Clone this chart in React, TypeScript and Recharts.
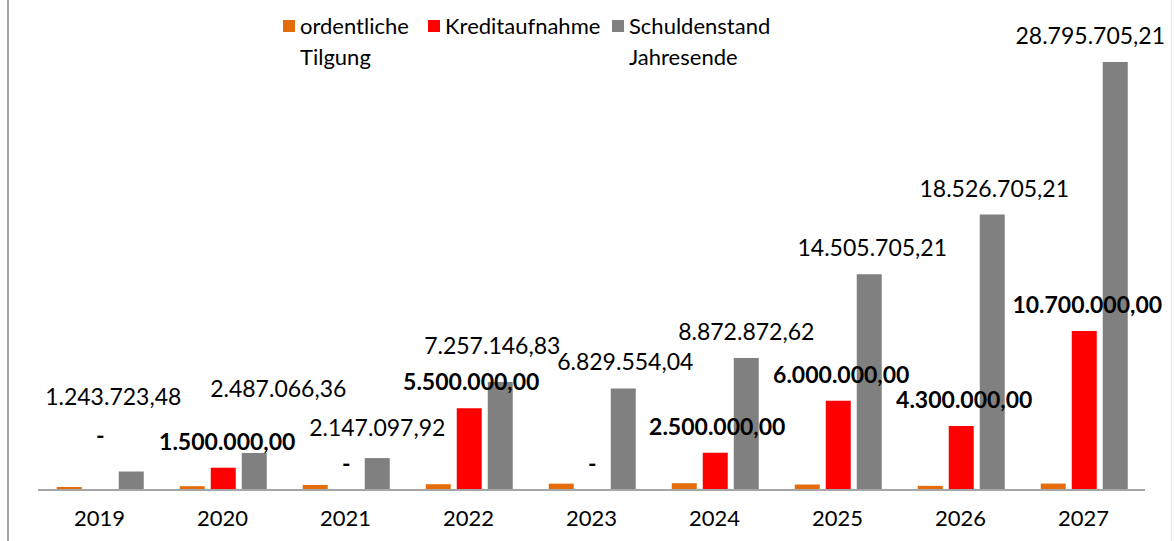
import React from 'react'
import { BarChart, Bar, XAxis, YAxis, Legend, LabelList } from 'recharts'

const years = ['2019', '2020', '2021', '2022', '2023', '2024', '2025', '2026', '2027']
const tilgung = [200000, 256657.12, 339968.44, 389951.09, 427592.79, 456681.42, 367167.41, 279000, 431000]
const kredit = [0, 1500000, 0, 5500000, 0, 2500000, 6000000, 4300000, 10700000]
const schulden = [
    1243723.48, 2487066.36, 2147097.92, 7257146.83, 6829554.04, 8872872.62, 14505705.21,
    18526705.21, 28795705.21,
]
const seriesNames = ['ordentliche Tilgung', 'Kreditaufnahme', 'Schuldenstand Jahresende']

// hand-placed label nudges (dx, dy), like the manually dragged labels in the original
const kreditShift = [[0, -28], [4, 0], [0, 0], [2, 0], [0, 0], [2, 0], [3, 0], [3, 0], [3, 0]]
const schuldenShift = [[-18, -49], [24, -38], [0, -4], [-8, -10], [2, 0], [0, 0], [3, 0], [2, 0], [-25, 0]]

const data = years.map((y, i) => ({
    year: y,
    tilgung: tilgung[i],
    kredit: kredit[i],
    schulden: schulden[i],
}))

const fmt = (v: number): string => {
    if (v === 0) return '-'
    const [int, dec] = v.toFixed(2).split('.')
    return int.replace(/\B(?=(\d{3})+(?!\d))/g, '.') + ',' + dec
}

const makeLabel = (shift: number[][], bold: boolean) => (props: any) => {
    const { x, y, width, value, index } = props
    const [dx, dy] = shift[index] || [0, 0]
    return (
        <text
            x={Number(x) + Number(width) / 2 + dx}
            y={Number(y) - 27 + dy}
            textAnchor="middle"
            dominantBaseline="central"
            fontSize={23}
            fontWeight={bold ? 700 : 400}
            fill="#000"
        >
            {fmt(Number(value))}
        </text>
    )
}

const legendWidths = [145, 184, 170]

const renderLegend = (props: any) => {
    const payload = [...(props.payload || [])].sort(
        (a: any, b: any) => seriesNames.indexOf(a.value) - seriesNames.indexOf(b.value)
    )
    return (
        <div style={{ display: 'flex', fontSize: 22, lineHeight: '31px', color: '#000' }}>
            {payload.map((p: any, i: number) => (
                <div key={p.value} style={{ display: 'flex', width: legendWidths[i] }}>
                    <div
                        style={{
                            width: 12,
                            height: 12,
                            marginTop: 10,
                            marginRight: 5,
                            background: p.color,
                            flexShrink: 0,
                        }}
                    />
                    <div style={{ width: legendWidths[i] - 17 }}>{p.value}</div>
                </div>
            ))}
        </div>
    )
}

const App = () => {
    return (
        <div
            style={{
                position: 'absolute',
                left: 0,
                top: 0,
                width: 1174,
                height: 541,
                background: '#fff',
                fontFamily: 'Lato, sans-serif',
            }}
        >
            <div style={{ position: 'absolute', left: 7, top: 0, width: 2, height: 541, background: '#a6a6a6' }} />
            <div style={{ position: 'absolute', left: 1171, top: 0, width: 1, height: 541, background: '#e6e6e6' }} />
            <BarChart
                width={1174}
                height={541}
                data={data}
                margin={{ top: 44, right: 29, left: 38, bottom: 0 }}
                barCategoryGap={18.75}
                barGap={6}
            >
                <XAxis
                    dataKey="year"
                    height={51}
                    tickLine={false}
                    tickSize={0}
                    tickMargin={20}
                    axisLine={{ stroke: '#a6a6a6', strokeWidth: 2 }}
                    tick={{ fill: '#000', fontSize: 22 }}
                />
                <YAxis hide domain={[0, 30000000]} />
                <Legend
                    layout="vertical"
                    align="center"
                    verticalAlign="middle"
                    wrapperStyle={{ top: 10, left: 283, width: 600 }}
                    content={renderLegend}
                />
                <Bar dataKey="tilgung" name={seriesNames[0]} fill="#E46C0A" isAnimationActive={false} />
                <Bar
                    dataKey="kredit"
                    name={seriesNames[1]}
                    fill="#FF0000"
                    minPointSize={0.01}
                    isAnimationActive={false}
                >
                    <LabelList dataKey="kredit" content={makeLabel(kreditShift, true)} />
                </Bar>
                <Bar dataKey="schulden" name={seriesNames[2]} fill="#808080" isAnimationActive={false}>
                    <LabelList dataKey="schulden" content={makeLabel(schuldenShift, false)} />
                </Bar>
            </BarChart>
        </div>
    )
}

export default App
